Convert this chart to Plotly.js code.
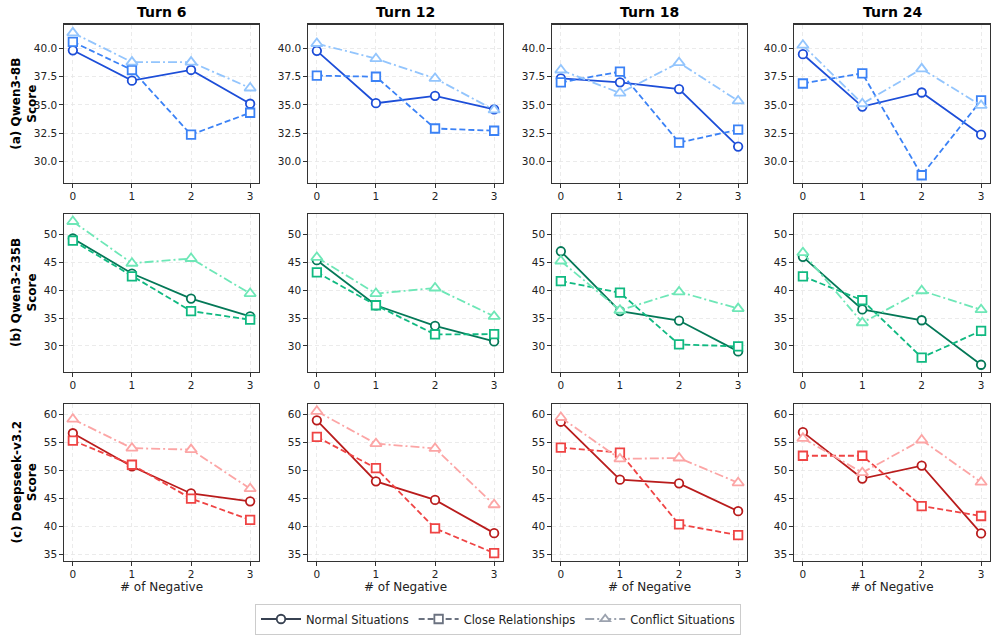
<!DOCTYPE html>
<html>
<head>
<meta charset="utf-8">
<script src="https://cdn.plot.ly/plotly-3.0.1.min.js"></script>
<style>html,body{margin:0;padding:0;background:#fff;}#chart{width:996px;height:637px;}</style>
</head>
<body>
<div id="chart"></div>
<script>
// ---------- DATA ----------
const turns = ["Turn 6", "Turn 12", "Turn 18", "Turn 24"];
const models = ["(a) Qwen3-8B", "(b) Qwen3-235B", "(c) Deepseek-v3.2"];
const situations = ["Normal Situations", "Close Relationships", "Conflict Situations"];
const negatives = [0, 1, 2, 3];

// Each array: one row per turn (6, 12, 18, 24), values at 0..3 negatives
const qwen8bNormal   = [[39.85, 37.15, 38.1, 35.1], [39.8, 35.15, 35.8, 34.6], [37.35, 37.0, 36.4, 31.3], [39.5, 34.85, 36.1, 32.35]];
const qwen8bClose    = [[40.6, 38.1, 32.35, 34.3], [37.6, 37.5, 32.9, 32.7], [37.0, 37.95, 31.65, 32.8], [36.9, 37.8, 28.75, 35.4]];
const qwen8bConflict = [[41.4, 38.8, 38.8, 36.5], [40.45, 39.1, 37.35, 34.55], [38.1, 36.05, 38.75, 35.35], [40.3, 35.1, 38.2, 34.95]];

const qwen235bNormal   = [[49.3, 43.0, 38.5, 35.3], [45.4, 37.3, 33.6, 30.8], [47.0, 36.25, 34.55, 29.0], [46.0, 36.55, 34.6, 26.6]];
const qwen235bClose    = [[48.9, 42.5, 36.25, 34.7], [43.2, 37.3, 32.05, 32.1], [41.65, 39.55, 30.25, 29.9], [42.5, 38.2, 27.9, 32.7]];
const qwen235bConflict = [[52.35, 44.85, 45.7, 39.4], [45.9, 39.4, 40.4, 35.3], [45.25, 36.4, 39.7, 36.7], [46.75, 34.15, 39.9, 36.5]];

const deepseekNormal   = [[56.6, 50.7, 45.9, 44.5], [58.9, 48.05, 44.75, 38.85], [58.65, 48.35, 47.7, 42.75], [56.8, 48.55, 50.85, 38.8]];
const deepseekClose    = [[55.3, 51.0, 45.0, 41.2], [55.95, 50.4, 39.7, 35.3], [54.05, 53.15, 40.4, 38.5], [52.6, 52.6, 43.65, 41.9]];
const deepseekConflict = [[59.1, 53.95, 53.7, 46.75], [60.5, 54.75, 53.9, 43.9], [59.4, 52.05, 52.2, 47.8], [55.7, 49.6, 55.4, 47.9]];

const modelData = [
  [qwen8bNormal, qwen8bClose, qwen8bConflict],
  [qwen235bNormal, qwen235bClose, qwen235bConflict],
  [deepseekNormal, deepseekClose, deepseekConflict]
];

// ---------- STYLE ----------
const W = 996, H = 637;
const palette = [
  ["#1d4ed8", "#3b82f6", "#93c5fd"],
  ["#047857", "#10b981", "#6ee7b7"],
  ["#b91c1c", "#ef4444", "#fca5a5"]
];
const legendColors = ["#374151", "#6b7280", "#9ca3af"];
const dashes = ["solid", "6px,3px", "9px,3px,2px,3px"];
const symbols = ["circle", "square", "triangle-up"];
const xPix = [[64, 259], [308, 503], [552, 747], [794, 990]];
const yPix = [[24.5, 183], [214, 372], [404, 561]];
const yRanges = [[28.06, 42.14], [25.3, 53.7], [33.9, 61.8]];
const yTicks = [[30, 32.5, 35, 37.5, 40], [30, 35, 40, 45, 50], [35, 40, 45, 50, 55, 60]];
const yFormats = [".1f", "d", "d"];
const FONT = "DejaVu Sans, Arial, sans-serif";

const traces = [];
const layout = {
  width: W, height: H,
  margin: {l: 0, r: 0, t: 0, b: 0},
  paper_bgcolor: "#fff", plot_bgcolor: "#fff",
  font: {family: FONT, size: 10, color: "#222"},
  showlegend: true,
  legend: {
    orientation: "h", x: 0.5, xanchor: "center", y: 1 - 619 / H, yanchor: "middle",
    bordercolor: "#cccccc", borderwidth: 1, bgcolor: "#fff",
    font: {family: FONT, size: 11.5, color: "#222"}, itemwidth: 40
  },
  annotations: []
};

for (let r = 0; r < 3; r++) {
  for (let c = 0; c < 4; c++) {
    const idx = r * 4 + c + 1;
    const xa = "xaxis" + (idx === 1 ? "" : idx);
    const ya = "yaxis" + (idx === 1 ? "" : idx);
    const xr = "x" + (idx === 1 ? "" : idx);
    const yr = "y" + (idx === 1 ? "" : idx);
    layout[xa] = {
      domain: [xPix[c][0] / W, xPix[c][1] / W],
      anchor: yr, range: [-0.15, 3.15],
      tickmode: "array", tickvals: negatives, ticktext: negatives.map(String),
      showgrid: true, gridcolor: "#e6e6e6", griddash: "4px,3px", gridwidth: 0.8,
      zeroline: false, showline: true, mirror: true, linecolor: "#333", linewidth: 1.2,
      ticks: "outside", ticklen: 3.5, tickwidth: 1, tickcolor: "#333",
      tickfont: {size: 10.5, family: FONT, color: "#222"}
    };
    if (r === 2) {
      layout[xa].title = {text: "# of Negative", font: {size: 12, family: FONT, color: "#222"}, standoff: 2};
    }
    layout[ya] = {
      domain: [1 - yPix[r][1] / H, 1 - yPix[r][0] / H],
      anchor: xr, range: yRanges[r],
      tickmode: "array", tickvals: yTicks[r], tickformat: yFormats[r],
      showgrid: true, gridcolor: "#e6e6e6", griddash: "4px,3px", gridwidth: 0.8,
      zeroline: false, showline: true, mirror: true, linecolor: "#333", linewidth: 1.2,
      ticks: "outside", ticklen: 3.5, tickwidth: 1, tickcolor: "#333",
      tickfont: {size: 10.5, family: FONT, color: "#222"}
    };
    for (let s = 0; s < 3; s++) {
      traces.push({
        type: "scatter", mode: "lines+markers",
        x: negatives, y: modelData[r][s][c],
        xaxis: xr, yaxis: yr, showlegend: false, name: situations[s],
        line: {color: palette[r][s], width: 1.8, dash: dashes[s]},
        marker: {symbol: symbols[s], size: s === 2 ? 10 : 8.5, color: "#ffffff", line: {color: palette[r][s], width: 1.8}},
        hoverinfo: "skip"
      });
    }
  }
}

// column titles
for (let c = 0; c < 4; c++) {
  layout.annotations.push({
    text: "<b>" + turns[c] + "</b>", xref: "paper", yref: "paper",
    x: (xPix[c][0] + xPix[c][1]) / 2 / W, y: 1 - 12 / H, xanchor: "center", yanchor: "middle",
    showarrow: false, font: {size: 14, family: FONT, color: "#000"}
  });
}
// row labels
for (let r = 0; r < 3; r++) {
  layout.annotations.push({
    text: "<b>" + models[r] + "<br>Score</b>", xref: "paper", yref: "paper",
    x: 24 / W, y: 1 - (yPix[r][0] + yPix[r][1]) / 2 / H, xanchor: "center", yanchor: "middle",
    textangle: -90, showarrow: false, font: {size: 12, family: FONT, color: "#000"}
  });
}

// legend proxies
for (let s = 0; s < 3; s++) {
  traces.push({
    type: "scatter", mode: "lines+markers", x: [null], y: [null],
    name: situations[s], showlegend: true,
    line: {color: legendColors[s], width: 1.8, dash: dashes[s]},
    marker: {symbol: symbols[s], size: 8.5, color: "#ffffff", line: {color: legendColors[s], width: 1.8}}
  });
}

Plotly.newPlot("chart", traces, layout, {staticPlot: true, displayModeBar: false});
</script>
</body>
</html>
